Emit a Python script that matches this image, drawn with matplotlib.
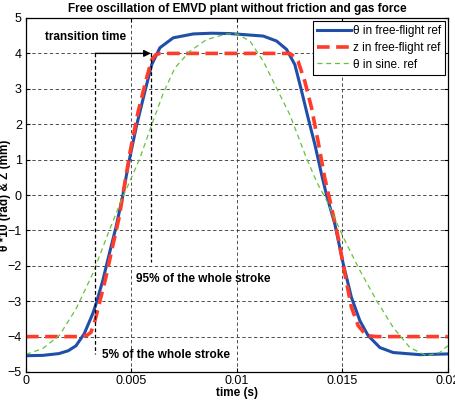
import matplotlib
matplotlib.use('Agg')
import matplotlib.pyplot as plt

plt.rcParams['font.family'] = ['Liberation Sans', 'DejaVu Sans']

# theta in free-flight ref (theta*10)
theta_t = [0, 0.0008, 0.00156, 0.002, 0.00237, 0.00276, 0.00316, 0.00332, 0.00364,
           0.00395, 0.00427, 0.00458, 0.00485, 0.00525, 0.00564, 0.00596, 0.00635,
           0.00698, 0.00793, 0.0088, 0.00967, 0.01125, 0.01188, 0.01236, 0.01275,
           0.01307, 0.01338, 0.0137, 0.01402, 0.01425, 0.01464, 0.01504, 0.01543,
           0.01583, 0.01622, 0.01678, 0.01741, 0.01867, 0.02]
theta_v = [-4.54, -4.53, -4.48, -4.40, -4.26, -3.92, -3.36, -3.08, -2.42,
           -1.66, -0.90, -0.05, 0.85, 1.98, 2.93, 3.68, 4.16,
           4.44, 4.55, 4.57, 4.56, 4.49, 4.35, 4.11, 3.68,
           2.93, 2.17, 1.42, 0.57, 0.0, -0.81, -1.94, -2.89,
           -3.55, -3.97, -4.31, -4.45, -4.51, -4.49]

# z in free-flight ref
z_t = [0, 0.00269, 0.0029, 0.00308, 0.00327, 0.00347, 0.00379, 0.0041, 0.00442,
       0.00462, 0.00493, 0.00532, 0.00572, 0.00596, 0.00615, 0.00635, 0.0125,
       0.0127, 0.0129, 0.01322, 0.01354, 0.01385, 0.01417, 0.01441, 0.0148,
       0.01512, 0.01543, 0.01575, 0.01614, 0.0166, 0.02]
z_v = [-4.0, -4.0, -3.96, -3.88, -3.55, -3.08, -2.32, -1.47, -0.62,
       0.1, 1.2, 2.36, 3.31, 3.82, 3.96, 4.0, 4.0,
       3.92, 3.78, 3.21, 2.46, 1.51, 0.47, -0.15, -1.19,
       -2.23, -3.17, -3.69, -3.97, -4.0, -4.0]

# theta in sine ref
sine_t = [0, 0.00079, 0.00158, 0.00237, 0.00316, 0.00395, 0.00458, 0.0049, 0.0054,
          0.00596, 0.00651, 0.00706, 0.00777, 0.00856, 0.00951, 0.01, 0.01062,
          0.01125, 0.01188, 0.01251, 0.0133, 0.0138, 0.01425, 0.01504, 0.01583,
          0.01662, 0.01741, 0.0182, 0.01899, 0.01962, 0.02]
sine_v = [-4.5, -4.34, -3.97, -3.22, -2.23, -1.0, -0.06, 0.35, 1.04,
          1.98, 2.88, 3.59, 4.06, 4.39, 4.55, 4.55, 4.35,
          3.78, 3.02, 2.27, 1.04, 0.35, -0.15, -1.19, -2.13,
          -2.98, -3.74, -4.31, -4.54, -4.45, -4.26]

# transition time markers (5% and 95% of the stroke)
mark_t = [0.00327, 0.00592]
mark_top = 4.0
mark_bottom = [-4.5, -1.9]

xticks = [0, 0.005, 0.01, 0.015, 0.02]
xticklabels = ['0', '0.005', '0.01', '0.015', '0.02']

fig = plt.figure(figsize=(4.56, 4.0), dpi=100)
ax = fig.add_axes([0.057, 0.07, 0.925, 0.885])

ax.plot(theta_t, theta_v, color='#1f4fa8', linewidth=2.2,
        label='θ in free-flight ref')
ax.plot(z_t, z_v, color='#ff3b2a', linewidth=2.6, linestyle=(0, (3.5, 1.8)),
        label='z in free-flight ref')
ax.plot(sine_t, sine_v, color='#66c23a', linewidth=0.9, linestyle=(0, (4, 3)),
        label='θ in sine. ref')

# annotation
for t, yb in zip(mark_t, mark_bottom):
    ax.plot([t, t], [mark_top, yb], color='black', linewidth=0.9,
            linestyle=(0, (3, 2)))
ax.annotate('', xy=(mark_t[1], mark_top), xytext=(mark_t[0], mark_top),
            arrowprops=dict(arrowstyle='-|>', color='black', lw=1.0,
                            mutation_scale=10, shrinkA=0, shrinkB=0))
ax.text(0.0009, 4.47, 'transition time', fontsize=8.5, fontweight='bold',
        va='center', ha='left')
ax.text(0.0052, -2.37, '95% of the whole stroke', fontsize=8.5,
        fontweight='bold', va='center', ha='left')
ax.text(0.00361, -4.51, '5% of the whole stroke', fontsize=8.5,
        fontweight='bold', va='center', ha='left')

ax.set_xlim(0, 0.02)
ax.set_ylim(-5, 5)
ax.set_xticks(xticks)
ax.set_xticklabels(xticklabels)
ax.set_yticks(range(-5, 6))
ax.tick_params(direction='in', top=True, right=True, length=3,
               labelsize=9, width=0.8)
ax.tick_params(axis='x', pad=2)
ax.tick_params(axis='y', pad=3)
ax.grid(True, color='#333333', linestyle=(0, (4, 3)), linewidth=0.6)
for s in ax.spines.values():
    s.set_linewidth(0.9)

ax.set_title('Free oscillation of EMVD plant without friction and gas force',
             fontsize=8.5, fontweight='bold', pad=4)
ax.set_xlabel('time (s)', fontsize=8.5, fontweight='bold', labelpad=0)
ax.set_ylabel('θ *10 (rad) & Z (mm)', fontsize=8.5, fontweight='bold')
ax.yaxis.set_label_coords(-0.035, 0.5)

leg = ax.legend(loc='upper right', fontsize=8.5, handlelength=2.9,
                borderaxespad=0.25, fancybox=False, framealpha=1,
                edgecolor='black', borderpad=0.35, labelspacing=0.4,
                handletextpad=0.1)
leg.get_frame().set_linewidth(0.8)

fig.savefig('out.png', dpi=100)
